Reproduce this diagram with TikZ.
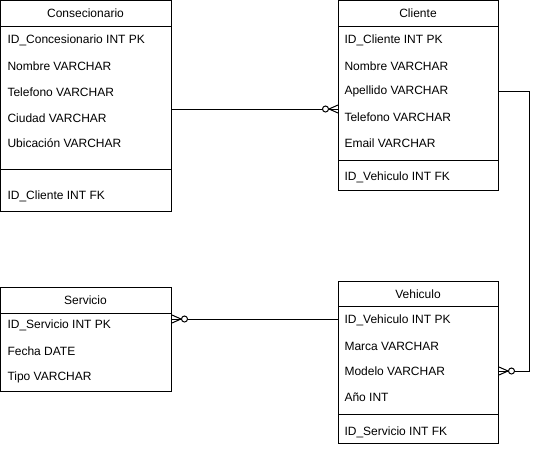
\documentclass[tikz,border=0pt]{standalone}
\usepackage{fontspec}
\setmainfont{Liberation Sans}
\begin{document}
\begin{tikzpicture}[x=1pt,y=-1pt,line width=1pt,
  entity/.style={draw,rectangle,anchor=north west,inner sep=0pt,fill=white},
  title/.style={font=\fontsize{12}{14}\selectfont,anchor=center,inner sep=0pt},
  attr/.style={font=\fontsize{12}{14}\selectfont,anchor=west,inner sep=0pt},
  conn/.style={draw,line width=1pt},
  zeromany/.pic={\draw (0,0) -- (-9,0); \draw (-9,0) -- (0,-4) (-9,0) -- (0,4);
                 \draw[fill=white] (-12.5,0) circle (3);}]
\useasboundingbox (0,0) rectangle (537,448);
% Consecionario
\node[entity,minimum width=171pt,minimum height=211pt] (cons) at (0,0) {};
\draw (0,26) -- (171,26) (0,169) -- (171,169);
\node[title] (consT) at (85.5,13) {Consecionario};
\node[attr] (c1) at (7,40) {ID\_Concesionario INT PK};
\node[attr] (c2) at (7,66) {Nombre VARCHAR};
\node[attr] (c3) at (7,92) {Telefono VARCHAR};
\node[attr] (c4) at (7,118) {Ciudad VARCHAR};
\node[attr] (c5) at (7,143) {Ubicación VARCHAR};
\node[attr] (c6) at (7,196) {ID\_Cliente INT FK};
% Cliente
\node[entity,minimum width=160pt,minimum height=190pt] (cli) at (338,0) {};
\draw (338,26) -- (498,26) (338,160) -- (498,160);
\node[title] (cliT) at (418,13) {Cliente};
\node[attr] (l1) at (344,40) {ID\_Cliente INT PK};
\node[attr] (l2) at (344,66) {Nombre VARCHAR};
\node[attr] (l3) at (344,91) {Apellido VARCHAR};
\node[attr] (l4) at (344,117) {Telefono VARCHAR};
\node[attr] (l5) at (344,143) {Email VARCHAR};
\node[attr] (l6) at (344,177) {ID\_Vehiculo INT FK};
% Servicio
\node[entity,minimum width=171pt,minimum height=104pt] (ser) at (0,287) {};
\draw (0,313) -- (171,313);
\node[title] (serT) at (85.5,300) {Servicio};
\node[attr] (s1) at (7,325) {ID\_Servicio INT PK};
\node[attr] (s2) at (7,351) {Fecha DATE};
\node[attr] (s3) at (7,377) {Tipo VARCHAR};
% Vehiculo
\node[entity,minimum width=160pt,minimum height=162pt] (veh) at (338,281) {};
\draw (338,306) -- (498,306) (338,414) -- (498,414);
\node[title] (vehT) at (418,294) {Vehiculo};
\node[attr] (v1) at (344,320) {ID\_Vehiculo INT PK};
\node[attr] (v2) at (344,346) {Marca VARCHAR};
\node[attr] (v3) at (344,371) {Modelo VARCHAR};
\node[attr] (v4) at (344,397) {Año INT};
\node[attr] (v5) at (344,432) {ID\_Servicio INT FK};
% connector coordinates
\coordinate (consE) at (cons.east |- 0,109);
\coordinate (cliW) at (cli.west |- 0,109);
\coordinate (serE) at (ser.east |- 0,319);
\coordinate (vehW) at (veh.west |- 0,319);
\coordinate (cliE) at (cli.east |- 0,91);
\coordinate (vehE) at (veh.east |- 0,371);
\coordinate (bend1) at (529,91);
\coordinate (bend2) at (529,371);
% connectors
\draw[conn] (consE) -- (cliW);
\pic at (cliW) {zeromany};
\draw[conn] (vehW) -- (serE);
\pic[rotate=180] at (serE) {zeromany};
\draw[conn] (cliE) -- (bend1) -- (bend2) -- (vehE);
\pic[rotate=180] at (vehE) {zeromany};
\end{tikzpicture}
\end{document}
